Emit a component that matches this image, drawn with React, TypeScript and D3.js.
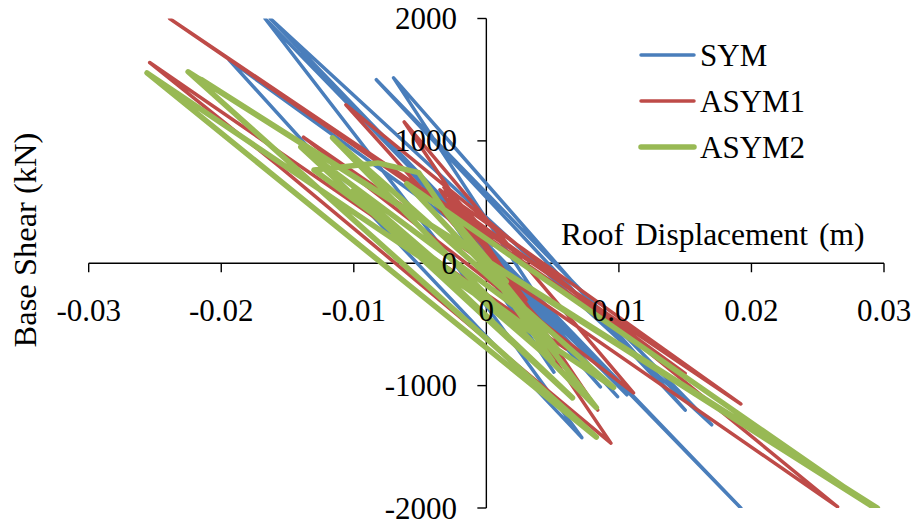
import React from "react";
import * as d3 from "d3";

const W = 915;
const H = 524;

const xTicks = [-0.03, -0.02, -0.01, 0, 0.01, 0.02, 0.03];
const yTicks = [-2000, -1000, 0, 1000, 2000];
const xTickLabels = ["-0.03", "-0.02", "-0.01", "0", "0.01", "0.02", "0.03"];
const yTickLabels = ["-2000", "-1000", "0", "1000", "2000"];

const seriesNames = ["SYM", "ASYM1", "ASYM2"];
const seriesColors = ["#4A7EBB", "#BE4B48", "#98B954"];
const seriesWidths = [3.5, 3.5, 5.5];

// SYM: roof displacement (m), base shear (kN)
const symX = [0, 0.003, -0.0025, 0.0051, -0.0045, 0.0086, -0.0058, 0.0099, -0.004, 0.0106, -0.002, -0.0194, -0.0121, 0.0072, -0.001, -0.0167, 0.0192, -0.0163, 0.017, -0.0083, 0.015, -0.007, 0.004, -0.003, 0.002, -0.001];
const symY = [0, -380, 350, -890, 650, -1010, 760, -1090, 600, -1075, 300, 1660, 790, -1425, -200, 2000, -2000, 2000, -1320, 1500, -1200, 1515, -300, 400, -200, 100];

// ASYM1
const asym1X = [0, 0.002, -0.0028, 0.0035, -0.0032, 0.0084, -0.0062, 0.0111, -0.0138, 0.0265, -0.0106, 0.006, -0.0254, -0.0156, 0.0094, -0.0035, 0.0192, -0.0239, 0.015, -0.003, 0.003, -0.0022, 0.001, -0.0028, 0.0015, -0.0018, 0.0005, -0.003, 0.0, -0.0025, 0.0012, -0.0032, 0.0004];
const asym1Y = [0, -220, 560, -430, 620, -1200, 1155, -1060, 1030, -1990, 1295, -700, 1640, 790, -1470, 600, -1150, 2000, -900, 520, -300, 460, -40, 540, -100, 380, 150, 600, 250, 550, -100, 480, 200];

// ASYM2
const asym2X = [0, 0.0025, -0.003, 0.0055, -0.013, -0.0082, -0.0051, -0.0032, 0.0083, -0.0116, 0.0096, -0.0256, 0.0083, -0.0225, 0.0295, -0.0215, 0.029, -0.006, 0.004, -0.014, 0.0065, -0.01, 0.005, -0.002, 0.0015, -0.0008];
const asym2Y = [0, -320, 420, -720, 762, 820, 740, 437, -1180, 1025, -1015, 1555, -1420, 1565, -2000, 1500, -1980, 650, -500, 950, -1100, 600, -800, 300, -150, 80];

const seriesX = [symX, asym1X, asym2X];
const seriesY = [symY, asym1Y, asym2Y];

function Label(props: any) {
  const { children, style, ...rest } = props;
  return (
    <text
      {...rest}
      fill="#000"
      fontFamily="Liberation Serif"
      style={{ fontFamily: '"Liberation Serif"', ...(style || {}) }}
    >
      {children}
    </text>
  );
}

export default function App() {
  const x = d3.scaleLinear().domain([-0.03, 0.03]).range([88.7, 884]);
  const y = d3.scaleLinear().domain([-2000, 2000]).range([508, 18.5]);
  const x0 = x(0);
  const y0 = y(0);

  const line = d3
    .line<[number, number]>()
    .x((d) => x(d[0]))
    .y((d) => y(d[1]));

  return (
    <svg width={W} height={H} style={{ position: "absolute", left: 0, top: 0, background: "#fff" }}>
      <defs>
        <clipPath id="plot">
          <rect x={x(-0.03)} y={y(2000)} width={x(0.03) - x(-0.03)} height={y(-2000) - y(2000)} />
        </clipPath>
      </defs>
      <rect x={0} y={0} width={W} height={H} fill="#fff" />

      {/* axes */}
      <line x1={x(-0.03)} x2={x(0.03)} y1={y0} y2={y0} stroke="#000" strokeWidth={1.4} />
      {xTicks.map((t) => (
        <line key={"xt" + t} x1={x(t)} x2={x(t)} y1={y0} y2={y0 + 9} stroke="#000" strokeWidth={1.4} />
      ))}
      <line x1={x0} x2={x0} y1={y(2000)} y2={y(-2000)} stroke="#000" strokeWidth={1.4} />
      {yTicks.map((t) => (
        <line key={"yt" + t} x1={x0 - 9} x2={x0} y1={y(t)} y2={y(t)} stroke="#000" strokeWidth={1.4} />
      ))}

      {/* series */}
      <g clipPath="url(#plot)">
        {seriesNames.map((name, i) => {
          const pts = seriesX[i].map((v, j) => [v, seriesY[i][j]] as [number, number]);
          return (
            <path
              key={name}
              d={line(pts) || ""}
              fill="none"
              stroke={seriesColors[i]}
              strokeWidth={seriesWidths[i]}
              strokeLinejoin="round"
              strokeLinecap="round"
            />
          );
        })}
      </g>

      {/* tick labels */}
      {xTicks.map((t, i) => (
        <Label key={"xl" + t} x={x(t)} y={321} textAnchor="middle" fontSize={31}>
          {xTickLabels[i]}
        </Label>
      ))}
      {yTicks.map((t, i) => (
        <Label key={"yl" + t} x={457} y={y(t) + 10.5} textAnchor="end" fontSize={31}>
          {yTickLabels[i]}
        </Label>
      ))}

      {/* axis titles */}
      <Label x={561} y={245} fontSize={31.5} style={{ wordSpacing: "3px" }}>
        Roof Displacement (m)
      </Label>
      <Label transform="translate(36, 240) rotate(-90)" textAnchor="middle" fontSize={32.5}>
        Base Shear (kN)
      </Label>

      {/* legend */}
      {seriesNames.map((name, i) => {
        const ly = 55 + i * 46;
        return (
          <g key={"lg" + name}>
            <line x1={641} x2={694} y1={ly} y2={ly} stroke={seriesColors[i]} strokeWidth={seriesWidths[i]} strokeLinecap="round" />
            <Label x={700} y={ly + 11} fontSize={31}>
              {name}
            </Label>
          </g>
        );
      })}
    </svg>
  );
}
